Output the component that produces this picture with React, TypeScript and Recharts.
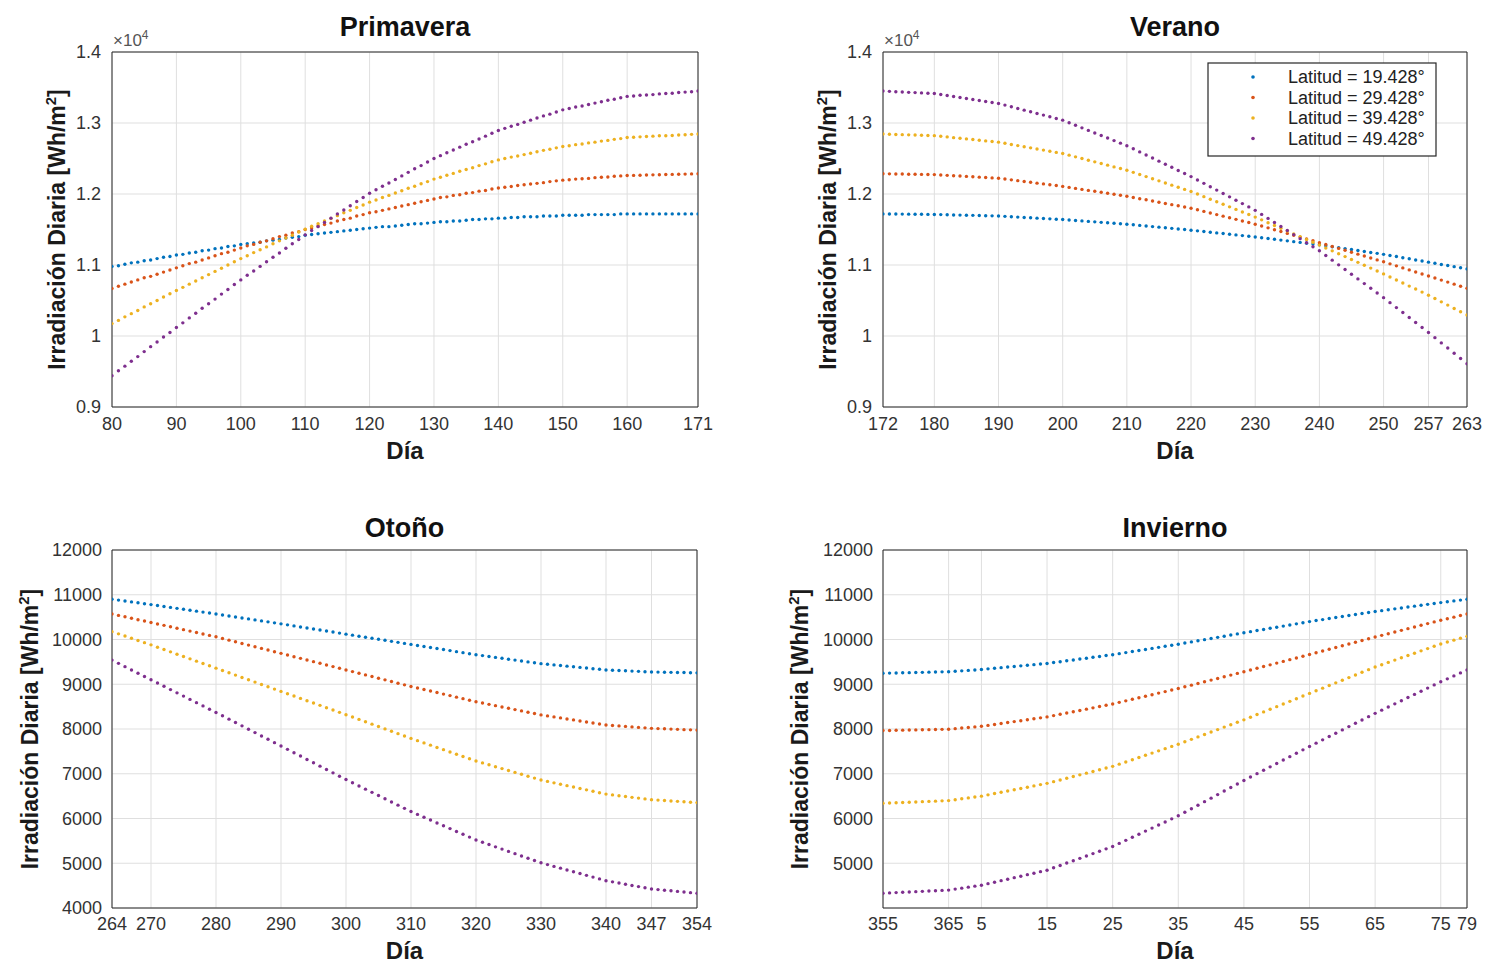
import React from "react";
import { ScatterChart, Scatter, XAxis, YAxis, CartesianGrid } from "recharts";

const COLORS = ["#0072BD", "#D95319", "#EDB120", "#7E2F8E"];
const LATITUDES = ["19.428", "29.428", "39.428", "49.428"];
const FONT = '"Liberation Sans", Arial, Helvetica, sans-serif';
const AXIS = "#262626";

const range = (a: number, b: number) =>
  Array.from({ length: b - a + 1 }, (_, i) => a + i);

// days of each season (x categories)
const primaveraDias = range(80, 171);
const veranoDias = range(172, 263);
const otonoDias = range(264, 354);
const inviernoDias = [...range(355, 365), ...range(1, 79)];

// tick labels
const primaveraTicks = [80, 90, 100, 110, 120, 130, 140, 150, 160, 171];
const veranoTicks = [172, 180, 190, 200, 210, 220, 230, 240, 250, 257, 263];
const otonoTicks = [264, 270, 280, 290, 300, 310, 320, 330, 340, 347, 354];
const inviernoTicks = [355, 365, 5, 15, 25, 35, 45, 55, 65, 75, 79];

const yTicksSup = [9000, 10000, 11000, 12000, 13000, 14000];
const yTicksOtono = [4000, 5000, 6000, 7000, 8000, 9000, 10000, 11000, 12000];
const yTicksInvierno = [5000, 6000, 7000, 8000, 9000, 10000, 11000, 12000];

// Irradiación diaria [Wh/m2] — Primavera (días 80..171)
const primavera19 = [
  10980, 10990, 11010, 11030, 11040, 11060, 11070, 11090, 11110, 11120,
  11140, 11150, 11170, 11180, 11200, 11210, 11230, 11240, 11260, 11270,
  11290, 11300, 11310, 11320, 11340, 11350, 11360, 11380, 11390, 11400,
  11420, 11430, 11440, 11450, 11460, 11470, 11480, 11490, 11500, 11510,
  11520, 11530, 11540, 11540, 11550, 11560, 11570, 11580, 11580, 11590,
  11600, 11610, 11610, 11620, 11620, 11630, 11640, 11640, 11650, 11650,
  11660, 11660, 11670, 11670, 11680, 11680, 11680, 11690, 11690, 11690,
  11700, 11700, 11700, 11700, 11710, 11710, 11710, 11710, 11710, 11720,
  11720, 11720, 11720, 11720, 11720, 11720, 11720, 11720, 11720, 11720, 11720, 11720,
];
const primavera29 = [
  10670, 10700, 10730, 10760, 10790, 10820, 10840, 10870, 10900, 10930,
  10960, 10990, 11020, 11040, 11070, 11100, 11130, 11160, 11180, 11210,
  11240, 11270, 11290, 11320, 11340, 11370, 11400, 11420, 11450, 11470,
  11500, 11520, 11550, 11570, 11590, 11620, 11640, 11660, 11690, 11710,
  11735, 11750, 11770, 11790, 11810, 11830, 11850, 11870, 11890, 11910,
  11930, 11950, 11960, 11980, 11990, 12010, 12020, 12040, 12050, 12070,
  12085, 12095, 12105, 12120, 12130, 12140, 12150, 12160, 12175, 12185,
  12195, 12200, 12210, 12215, 12220, 12230, 12235, 12240, 12250, 12255,
  12260, 12262, 12265, 12267, 12270, 12272, 12274, 12276, 12278, 12280, 12283, 12285,
];
const primavera39 = [
  10175, 10220, 10270, 10315, 10360, 10410, 10455, 10500, 10550, 10595,
  10640, 10685, 10730, 10775, 10820, 10865, 10910, 10955, 11000, 11045,
  11090, 11130, 11175, 11215, 11255, 11300, 11340, 11380, 11420, 11465,
  11505, 11545, 11580, 11620, 11655, 11695, 11735, 11770, 11810, 11845,
  11885, 11915, 11950, 11980, 12015, 12045, 12080, 12110, 12145, 12175,
  12210, 12235, 12265, 12290, 12320, 12345, 12370, 12400, 12425, 12455,
  12480, 12500, 12520, 12535, 12555, 12575, 12595, 12615, 12630, 12650,
  12670, 12680, 12695, 12705, 12720, 12730, 12745, 12755, 12770, 12780,
  12795, 12800, 12805, 12810, 12815, 12820, 12820, 12825, 12830, 12835, 12840, 12845,
];
const primavera49 = [
  9440, 9510, 9575, 9645, 9710, 9780, 9850, 9915, 9985, 10050,
  10120, 10185, 10255, 10320, 10390, 10455, 10520, 10590, 10655, 10725,
  10790, 10855, 10915, 10980, 11045, 11110, 11170, 11235, 11300, 11360,
  11425, 11485, 11540, 11600, 11660, 11720, 11775, 11835, 11895, 11950,
  12010, 12060, 12110, 12155, 12205, 12255, 12305, 12355, 12400, 12450,
  12500, 12540, 12580, 12620, 12660, 12700, 12735, 12775, 12815, 12855,
  12895, 12925, 12955, 12980, 13010, 13040, 13070, 13100, 13125, 13155,
  13185, 13205, 13225, 13240, 13260, 13280, 13300, 13320, 13335, 13355,
  13375, 13380, 13390, 13395, 13400, 13410, 13415, 13420, 13430, 13435, 13440, 13450,
];

// Verano (días 172..263)
const verano19 = [
  11720, 11719, 11718, 11717, 11716, 11715, 11714, 11713,
  11712, 11710, 11708, 11705, 11703, 11701, 11699, 11697, 11694, 11692,
  11690, 11685, 11680, 11675, 11670, 11665, 11660, 11655, 11650, 11645,
  11640, 11634, 11627, 11621, 11614, 11608, 11601, 11595, 11588, 11582,
  11575, 11567, 11558, 11550, 11541, 11533, 11524, 11516, 11507, 11499,
  11490, 11481, 11471, 11462, 11452, 11443, 11433, 11424, 11414, 11405,
  11395, 11384, 11373, 11362, 11351, 11340, 11329, 11318, 11307, 11296,
  11285, 11272, 11258, 11245, 11231, 11218, 11204, 11191, 11177, 11164,
  11150, 11134, 11119, 11103, 11087, 11071, 11056,
  11040, 11024, 11008, 10993, 10977, 10961, 10945,
];
const verano29 = [
  12285, 12284, 12282, 12281, 12279, 12278, 12276, 12275,
  12273, 12268, 12263, 12258, 12253, 12248, 12242, 12237, 12232, 12227,
  12222, 12211, 12199, 12188, 12176, 12165, 12153, 12142, 12130, 12119,
  12107, 12093, 12079, 12065, 12051, 12038, 12024, 12010, 11996, 11982,
  11968, 11951, 11934, 11918, 11901, 11884, 11867, 11850, 11834, 11817,
  11800, 11778, 11755, 11733, 11710, 11688, 11665, 11643, 11620, 11598,
  11575, 11549, 11523, 11497, 11471, 11445, 11419, 11393, 11367, 11341,
  11315, 11288, 11261, 11234, 11207, 11180, 11153, 11126, 11099, 11072,
  11045, 11016, 10988, 10959, 10931, 10902, 10874,
  10845, 10816, 10787, 10759, 10730, 10701, 10672,
];
const verano39 = [
  12845, 12842, 12839, 12836, 12833, 12830, 12828, 12825,
  12822, 12813, 12804, 12794, 12785, 12776, 12767, 12758, 12748, 12739,
  12730, 12714, 12698, 12682, 12666, 12650, 12634, 12618, 12602, 12586,
  12570, 12547, 12523, 12500, 12476, 12453, 12429, 12406, 12382, 12359,
  12335, 12305, 12275, 12245, 12215, 12185, 12155, 12125, 12095, 12065,
  12035, 11999, 11963, 11927, 11891, 11855, 11819, 11783, 11747, 11711,
  11675, 11636, 11596, 11557, 11517, 11478, 11438, 11399, 11359, 11320,
  11280, 11240, 11199, 11159, 11118, 11078, 11037, 10997, 10956, 10916,
  10875, 10832, 10789, 10746, 10703, 10661, 10618,
  10575, 10528, 10481, 10435, 10388, 10341, 10295,
];
const verano49 = [
  13450, 13446, 13441, 13437, 13432, 13428, 13424, 13419,
  13415, 13401, 13387, 13373, 13359, 13345, 13331, 13317, 13303, 13289,
  13275, 13252, 13228, 13205, 13181, 13158, 13134, 13111, 13087, 13064,
  13040, 13004, 12968, 12932, 12896, 12860, 12824, 12788, 12752, 12716,
  12680, 12637, 12593, 12550, 12506, 12463, 12419, 12376, 12332, 12289,
  12245, 12198, 12150, 12103, 12055, 12008, 11960, 11913, 11865, 11818,
  11770, 11713, 11656, 11599, 11542, 11485, 11428, 11371, 11314, 11257,
  11200, 11134, 11068, 11002, 10936, 10870, 10804, 10738, 10672, 10606,
  10540, 10470, 10400, 10330, 10260, 10190, 10120,
  10050, 9977, 9903, 9830, 9757, 9683, 9610,
];

// Otoño (días 264..354)
const otono19 = [
  10900, 10880, 10860, 10840, 10820, 10800,
  10780, 10759, 10738, 10717, 10696, 10675, 10654, 10633, 10612, 10591,
  10570, 10548, 10526, 10504, 10482, 10460, 10438, 10416, 10394, 10372,
  10350, 10327, 10304, 10281, 10258, 10235, 10212, 10189, 10166, 10143,
  10120, 10097, 10074, 10051, 10028, 10005, 9982, 9959, 9936, 9913,
  9890, 9867, 9844, 9821, 9798, 9775, 9752, 9729, 9706, 9683,
  9660, 9640, 9620, 9600, 9580, 9560, 9540, 9520, 9500, 9480,
  9460, 9446, 9432, 9418, 9404, 9390, 9376, 9362, 9348, 9334,
  9320, 9314, 9307, 9301, 9294, 9288, 9281,
  9275, 9272, 9269, 9266, 9264, 9261, 9258, 9255,
];
const otono29 = [
  10570, 10538, 10507, 10475, 10443, 10412,
  10380, 10348, 10316, 10284, 10252, 10220, 10188, 10156, 10124, 10092,
  10060, 10023, 9986, 9949, 9912, 9875, 9838, 9801, 9764, 9727,
  9690, 9653, 9616, 9579, 9542, 9505, 9468, 9431, 9394, 9357,
  9320, 9283, 9246, 9209, 9172, 9135, 9098, 9061, 9024, 8987,
  8950, 8916, 8882, 8848, 8814, 8780, 8746, 8712, 8678, 8644,
  8610, 8581, 8551, 8522, 8492, 8463, 8433, 8404, 8374, 8345,
  8315, 8293, 8270, 8248, 8225, 8203, 8180, 8158, 8135, 8113,
  8090, 8079, 8069, 8058, 8047, 8036, 8026,
  8015, 8009, 8004, 7998, 7992, 7986, 7981, 7975,
];
const otono39 = [
  10175, 10126, 10077, 10028, 9979, 9930,
  9880, 9828, 9776, 9724, 9672, 9620, 9568, 9516, 9464, 9412,
  9360, 9308, 9256, 9204, 9152, 9100, 9048, 8996, 8944, 8892,
  8840, 8788, 8736, 8684, 8632, 8580, 8528, 8476, 8424, 8372,
  8320, 8267, 8214, 8161, 8108, 8055, 8002, 7949, 7896, 7843,
  7790, 7740, 7689, 7639, 7588, 7538, 7487, 7437, 7386, 7336,
  7285, 7243, 7200, 7158, 7115, 7073, 7030, 6988, 6945, 6903,
  6860, 6829, 6797, 6766, 6734, 6703, 6671, 6640, 6608, 6577,
  6545, 6527, 6509, 6491, 6473, 6456, 6438,
  6420, 6411, 6401, 6392, 6383, 6374, 6364, 6355,
];
const otono49 = [
  9540, 9467, 9393, 9320, 9247, 9173,
  9100, 9027, 8954, 8881, 8808, 8735, 8662, 8589, 8516, 8443,
  8370, 8295, 8220, 8145, 8070, 7995, 7920, 7845, 7770, 7695,
  7620, 7545, 7470, 7395, 7320, 7245, 7170, 7095, 7020, 6945,
  6870, 6799, 6727, 6656, 6584, 6513, 6441, 6370, 6298, 6227,
  6155, 6092, 6028, 5965, 5901, 5838, 5774, 5711, 5647, 5584,
  5520, 5469, 5418, 5367, 5316, 5265, 5214, 5163, 5112, 5061,
  5010, 4970, 4930, 4890, 4850, 4810, 4770, 4730, 4690, 4650,
  4610, 4584, 4557, 4531, 4504, 4478, 4452,
  4425, 4411, 4398, 4384, 4371, 4357, 4343, 4330,
];

// Invierno (días 355..365, 1..79)
const invierno19 = [
  9245, 9249, 9252, 9256, 9259, 9263, 9266, 9270, 9273, 9277,
  9280, 9290, 9300, 9310, 9320,
  9330, 9344, 9357, 9371, 9384, 9398, 9411, 9425, 9438, 9452,
  9465, 9485, 9504, 9524, 9543, 9563, 9582, 9602, 9621, 9641,
  9660, 9684, 9707, 9731, 9754, 9778, 9801, 9825, 9848, 9872,
  9895, 9921, 9946, 9972, 9997, 10023, 10048, 10074, 10099, 10125,
  10150, 10175, 10200, 10225, 10250, 10275, 10300, 10325, 10350, 10375,
  10400, 10423, 10445, 10468, 10490, 10513, 10535, 10558, 10580, 10603,
  10625, 10645, 10665, 10685, 10705, 10725, 10745, 10765, 10785, 10805,
  10825, 10844, 10863, 10881, 10900,
];
const invierno29 = [
  7965, 7968, 7971, 7974, 7977, 7980, 7983, 7986, 7989, 7992,
  7995, 8008, 8021, 8034, 8047,
  8060, 8081, 8102, 8123, 8144, 8165, 8186, 8207, 8228, 8249,
  8270, 8299, 8328, 8357, 8386, 8415, 8444, 8473, 8502, 8531,
  8560, 8595, 8629, 8664, 8698, 8733, 8767, 8802, 8836, 8871,
  8905, 8943, 8980, 9018, 9055, 9093, 9130, 9168, 9205, 9243,
  9280, 9319, 9357, 9396, 9434, 9473, 9511, 9550, 9588, 9627,
  9665, 9704, 9743, 9782, 9821, 9860, 9899, 9938, 9977, 10016,
  10055, 10093, 10130, 10168, 10205, 10243, 10280, 10318, 10355, 10393,
  10430, 10465, 10500, 10535, 10570,
];
const invierno39 = [
  6340, 6346, 6352, 6358, 6364, 6370, 6376, 6382, 6388, 6394,
  6400, 6420, 6440, 6460, 6480,
  6500, 6529, 6557, 6586, 6614, 6643, 6671, 6700, 6728, 6757,
  6785, 6823, 6861, 6899, 6937, 6975, 7013, 7051, 7089, 7127,
  7165, 7215, 7264, 7314, 7363, 7413, 7462, 7512, 7561, 7611,
  7660, 7715, 7769, 7824, 7878, 7933, 7987, 8042, 8096, 8151,
  8205, 8264, 8323, 8382, 8441, 8500, 8559, 8618, 8677, 8736,
  8795, 8854, 8913, 8972, 9031, 9090, 9149, 9208, 9267, 9326,
  9385, 9437, 9488, 9540, 9591, 9643, 9694, 9746, 9797, 9849,
  9900, 9943, 9985, 10028, 10070,
];
const invierno49 = [
  4330, 4337, 4344, 4351, 4358, 4365, 4372, 4379, 4386, 4393,
  4400, 4422, 4444, 4466, 4488,
  4510, 4544, 4577, 4611, 4644, 4678, 4711, 4745, 4778, 4812,
  4845, 4898, 4951, 5004, 5057, 5110, 5163, 5216, 5269, 5322,
  5375, 5444, 5512, 5581, 5649, 5718, 5786, 5855, 5923, 5992,
  6060, 6139, 6218, 6297, 6376, 6455, 6534, 6613, 6692, 6771,
  6850, 6926, 7002, 7078, 7154, 7230, 7306, 7382, 7458, 7534,
  7610, 7684, 7758, 7832, 7906, 7980, 8054, 8128, 8202, 8276,
  8350, 8421, 8491, 8562, 8632, 8703, 8773, 8844, 8914, 8985,
  9055, 9121, 9187, 9254, 9320,
];

type Box = { x0: number; x1: number; y0: number; y1: number };

type PanelProps = {
  box: Box;
  dias: number[];
  series: number[][];
  tickLabels: number[];
  yDomain: [number, number];
  yTicks: number[];
  yFormat: (v: number) => string;
  yTickMargin: number;
  xTickMargin: number;
};

const dot = (color: string) => (props: any) =>
  props.cx == null ? <g /> : <circle cx={props.cx} cy={props.cy} r={1.7} fill={color} />;

function Panel({ box, dias, series, tickLabels, yDomain, yTicks, yFormat, yTickMargin, xTickMargin }: PanelProps) {
  const w = box.x1 - box.x0;
  const h = box.y1 - box.y0;
  const n = dias.length;
  const xTicks = tickLabels.map((d) => dias.indexOf(d));
  const xDomain: [number, number] = [0, n - 1];
  const data = series.map((vals) => vals.map((v, i) => ({ x: i, y: v })));
  const tickStyle = { fill: "#333", fontSize: 18, fontFamily: FONT };

  return (
    <div style={{ position: "absolute", left: box.x0 - 80, top: box.y0 - 10 }}>
      <ScatterChart
        width={w + 100}
        height={h + 50}
        margin={{ top: 10, right: 20, bottom: 10, left: 0 }}
      >
        <CartesianGrid stroke="#dfdfdf" />
        <XAxis
          type="number"
          dataKey="x"
          domain={xDomain}
          ticks={xTicks}
          interval={0}
          allowDataOverflow
          tickFormatter={(i: number) => String(dias[i])}
          height={30}
          tickSize={0}
          tickMargin={xTickMargin}
          tickLine={false}
          axisLine={{ stroke: AXIS }}
          tick={tickStyle}
        />
        <XAxis
          xAxisId="abajo"
          type="number"
          orientation="bottom"
          mirror
          domain={xDomain}
          ticks={xTicks}
          interval={0}
          allowDataOverflow
          tick={false}
          tickSize={6}
          tickLine={{ stroke: AXIS }}
          axisLine={false}
        />
        <XAxis
          xAxisId="arriba"
          type="number"
          orientation="top"
          mirror
          domain={xDomain}
          ticks={xTicks}
          interval={0}
          allowDataOverflow
          tick={false}
          tickSize={6}
          tickLine={{ stroke: AXIS }}
          axisLine={{ stroke: AXIS }}
        />
        <YAxis
          type="number"
          dataKey="y"
          domain={yDomain}
          ticks={yTicks}
          interval={0}
          allowDataOverflow
          tickFormatter={yFormat}
          width={80}
          tickSize={0}
          tickMargin={yTickMargin}
          tickLine={false}
          axisLine={{ stroke: AXIS }}
          tick={tickStyle}
        />
        <YAxis
          yAxisId="izq"
          type="number"
          orientation="left"
          mirror
          domain={yDomain}
          ticks={yTicks}
          interval={0}
          allowDataOverflow
          tick={false}
          tickSize={6}
          tickLine={{ stroke: AXIS }}
          axisLine={false}
        />
        <YAxis
          yAxisId="der"
          type="number"
          orientation="right"
          mirror
          domain={yDomain}
          ticks={yTicks}
          interval={0}
          allowDataOverflow
          tick={false}
          tickSize={6}
          tickLine={{ stroke: AXIS }}
          axisLine={{ stroke: AXIS }}
        />
        {data.map((d, k) => (
          <Scatter
            key={k}
            name={`Latitud = ${LATITUDES[k]}°`}
            data={d}
            fill={COLORS[k]}
            shape={dot(COLORS[k])}
            isAnimationActive={false}
          />
        ))}
      </ScatterChart>
    </div>
  );
}

const fmtSup = (v: number) => String(v / 10000);
const fmtInf = (v: number) => String(v);

const boxes = {
  primavera: { x0: 112, x1: 698, y0: 52, y1: 407 },
  verano: { x0: 883, x1: 1467, y0: 52, y1: 407 },
  otono: { x0: 112, x1: 697, y0: 550, y1: 908 },
  invierno: { x0: 883, x1: 1467, y0: 550, y1: 908 },
};

function YLabel({ x, y }: { x: number; y: number }) {
  return (
    <text
      transform={`translate(${x},${y}) rotate(-90)`}
      textAnchor="middle"
      fontSize={23}
      fontWeight="bold"
      fill="#1a1a1a"
    >
      Irradiación Diaria [Wh/m
      <tspan dy={-9} fontSize={15}>2</tspan>
      <tspan dy={9}>]</tspan>
    </text>
  );
}

function Exponent({ x, y }: { x: number; y: number }) {
  return (
    <text x={x} y={y} fontSize={17} fill="#555">
      ×10<tspan dy={-7} fontSize={12}>4</tspan>
    </text>
  );
}

export default function App() {
  const titles = [
    { t: "Primavera", b: boxes.primavera, y: 36 },
    { t: "Verano", b: boxes.verano, y: 36 },
    { t: "Otoño", b: boxes.otono, y: 537 },
    { t: "Invierno", b: boxes.invierno, y: 537 },
  ];
  return (
    <div
      style={{
        position: "absolute",
        left: 0,
        top: 0,
        width: 1488,
        height: 964,
        background: "#fff",
        fontFamily: FONT,
      }}
    >
      <Panel
        box={boxes.primavera}
        dias={primaveraDias}
        series={[primavera19, primavera29, primavera39, primavera49]}
        tickLabels={primaveraTicks}
        yDomain={[9000, 14000]}
        yTicks={yTicksSup}
        yFormat={fmtSup}
        yTickMargin={11}
        xTickMargin={10}
      />
      <Panel
        box={boxes.verano}
        dias={veranoDias}
        series={[verano19, verano29, verano39, verano49]}
        tickLabels={veranoTicks}
        yDomain={[9000, 14000]}
        yTicks={yTicksSup}
        yFormat={fmtSup}
        yTickMargin={11}
        xTickMargin={10}
      />
      <Panel
        box={boxes.otono}
        dias={otonoDias}
        series={[otono19, otono29, otono39, otono49]}
        tickLabels={otonoTicks}
        yDomain={[4000, 12000]}
        yTicks={yTicksOtono}
        yFormat={fmtInf}
        yTickMargin={10}
        xTickMargin={9}
      />
      <Panel
        box={boxes.invierno}
        dias={inviernoDias}
        series={[invierno19, invierno29, invierno39, invierno49]}
        tickLabels={inviernoTicks}
        yDomain={[4000, 12000]}
        yTicks={yTicksInvierno}
        yFormat={fmtInf}
        yTickMargin={10}
        xTickMargin={9}
      />
      <svg
        width={1488}
        height={964}
        style={{ position: "absolute", left: 0, top: 0, pointerEvents: "none" }}
        fontFamily={FONT}
      >
        {titles.map(({ t, b, y }) => (
          <text key={t} x={(b.x0 + b.x1) / 2} y={y} textAnchor="middle" fontSize={27} fontWeight="bold" fill="#111">
            {t}
          </text>
        ))}
        {[boxes.primavera, boxes.verano].map((b, i) => (
          <text key={`d${i}`} x={(b.x0 + b.x1) / 2} y={459} textAnchor="middle" fontSize={24} fontWeight="bold" fill="#1a1a1a">
            Día
          </text>
        ))}
        {[boxes.otono, boxes.invierno].map((b, i) => (
          <text key={`e${i}`} x={(b.x0 + b.x1) / 2} y={959} textAnchor="middle" fontSize={24} fontWeight="bold" fill="#1a1a1a">
            Día
          </text>
        ))}
        <YLabel x={65} y={229.5} />
        <YLabel x={836} y={229.5} />
        <YLabel x={38} y={729} />
        <YLabel x={808} y={729} />
        <Exponent x={113} y={46} />
        <Exponent x={884} y={46} />
        <g>
          <rect x={1208} y={63} width={228} height={93} fill="#fff" stroke={AXIS} strokeWidth={1.2} />
          {LATITUDES.map((lat, k) => (
            <g key={lat}>
              <circle cx={1253} cy={77 + k * 20.5} r={1.8} fill={COLORS[k]} />
              <text x={1288} y={83 + k * 20.5} fontSize={18} fill="#222">
                {`Latitud = ${lat}°`}
              </text>
            </g>
          ))}
        </g>
      </svg>
    </div>
  );
}
